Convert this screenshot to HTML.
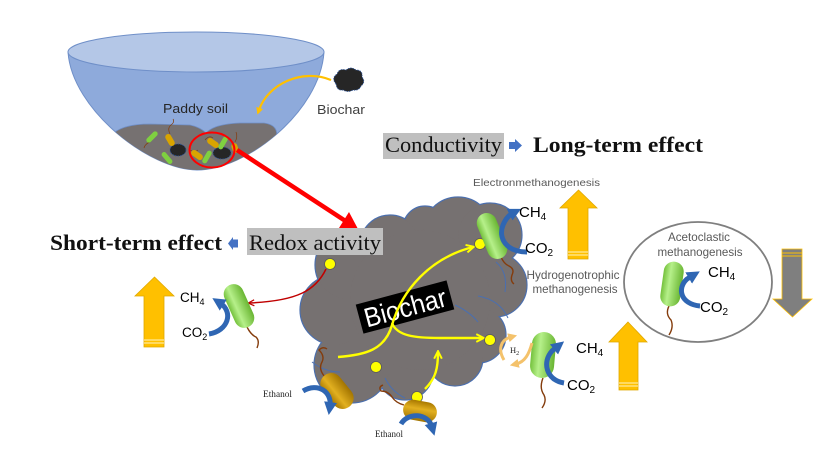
<!DOCTYPE html>
<html><head><meta charset="utf-8"><style>
html,body{margin:0;padding:0;background:#fff;}
svg{display:block;}
</style></head><body>
<svg width="819" height="461" viewBox="0 0 819 461" xmlns="http://www.w3.org/2000/svg">
<defs>
<linearGradient id="gg" x1="0" y1="0" x2="1" y2="0">
<stop offset="0" stop-color="#74c13c"/><stop offset="0.35" stop-color="#b6f08a"/><stop offset="1" stop-color="#69b532"/>
</linearGradient>
<linearGradient id="go" x1="0" y1="0" x2="1" y2="0">
<stop offset="0" stop-color="#a87800"/><stop offset="0.4" stop-color="#e2b020"/><stop offset="1" stop-color="#a27400"/>
</linearGradient>
<marker id="bh" viewBox="0 0 10 10" refX="3" refY="5" markerWidth="2.6" markerHeight="2.8" orient="auto"><path d="M0,0 L10,5 L0,10z" fill="#2f66b3"/></marker>
<marker id="yh" viewBox="0 0 10 10" refX="8" refY="5" markerWidth="4" markerHeight="4" orient="auto"><path d="M1,1 L9,5 L1,9" fill="none" stroke="#ffff00" stroke-width="2"/></marker>
<marker id="oh" viewBox="0 0 10 10" refX="3" refY="5" markerWidth="3" markerHeight="3" orient="auto"><path d="M0,0 L10,5 L0,10z" fill="#f4c26b"/></marker>
<marker id="rh" viewBox="0 0 10 10" refX="8" refY="5" markerWidth="5" markerHeight="5" orient="auto"><path d="M1,1 L9,5 L1,9" fill="none" stroke="#c00000" stroke-width="1.6"/></marker>
<marker id="ah" viewBox="0 0 10 10" refX="3" refY="5" markerWidth="3.2" markerHeight="3.2" orient="auto"><path d="M0,0 L10,5 L0,10z" fill="#ffc000"/></marker>
<clipPath id="bowlc"><path d="M68,52 C72,110 150,170 197,170 C246,170 320,112 324,52 Z"/></clipPath>
</defs>
<rect width="819" height="461" fill="#fff"/>

<!-- Bowl -->
<path d="M68,52 C72,110 150,170 197,170 C246,170 320,112 324,52 Z" fill="#8eaadb" stroke="#6f8fc8" stroke-width="1"/>
<g clip-path="url(#bowlc)">
<path d="M108,140 Q116,124 150,124 L190,125 Q200,127 206,133 Q214,124 240,123 L264,123 Q280,125 276,140 L276,185 L108,185 Z" fill="#767171" stroke="#6f8fc8" stroke-width="0.8"/>
</g>
<ellipse cx="196" cy="52" rx="128" ry="20" fill="#b4c7e7" stroke="#6f8fc8" stroke-width="1"/>
<!-- soil contents -->
<g stroke="#843c0c" stroke-width="0.7" fill="none">
<path d="M170,134 q-3,-6 1,-9 q4,-3 2,-6"/><path d="M150,142 q-5,2 -6,6"/><path d="M205,140 q4,-5 8,-2"/><path d="M235,142 q3,-5 1,-10"/><path d="M190,150 q5,3 8,0"/>
</g>
<g fill="#262626" stroke="#2f5597" stroke-width="0.8" stroke-dasharray="1.5 1">
<ellipse cx="178" cy="150" rx="8" ry="6"/><ellipse cx="222" cy="153" rx="9" ry="6"/>
</g>
<g fill="#7fd040">
<rect x="-2.5" y="-7" width="5" height="14" rx="2.5" transform="translate(152,137) rotate(45)"/>
<rect x="-2.5" y="-7" width="5" height="14" rx="2.5" transform="translate(167,158) rotate(-40)"/>
<rect x="-2.5" y="-7" width="5" height="14" rx="2.5" transform="translate(207,157) rotate(30)"/>
<rect x="-2.5" y="-7" width="5" height="14" rx="2.5" transform="translate(223,143) rotate(30)"/>
</g>
<g fill="#d9a400">
<rect x="-3" y="-6.5" width="6" height="13" rx="3" transform="translate(170,140) rotate(-30)"/>
<rect x="-3" y="-6.5" width="6" height="13" rx="3" transform="translate(197,155) rotate(-55)"/>
<rect x="-3" y="-6.5" width="6" height="13" rx="3" transform="translate(213,143) rotate(-55)"/>
<rect x="-3" y="-5" width="6" height="10" rx="3" transform="translate(235,148) rotate(-20)"/>
</g>
<ellipse cx="212" cy="150" rx="22.5" ry="17.5" fill="none" stroke="#ff0000" stroke-width="2"/>
<text x="163" y="113" font-family="Liberation Sans, sans-serif" font-size="13" fill="#262626" textLength="65" lengthAdjust="spacingAndGlyphs">Paddy soil</text>

<!-- small biochar -->
<g fill="#262626" stroke="#2f5597" stroke-width="0.8" stroke-dasharray="1.5 1">
<path d="M336,84 q-5,-6 1,-10 q2,-6 9,-4 q5,-4 10,0 q7,0 6,7 q4,5 -1,9 q-2,5 -8,4 q-5,3 -10,0 q-6,1 -7,-6z"/>
</g>
<text x="317" y="114" font-family="Liberation Sans, sans-serif" font-size="13" fill="#404040" textLength="48" lengthAdjust="spacingAndGlyphs">Biochar</text>
<path d="M331,80 C302,68 268,84 259,110" fill="none" stroke="#ffc000" stroke-width="2.2" marker-end="url(#ah)"/>

<!-- Red big arrow -->
<line x1="237" y1="150" x2="347" y2="222" stroke="#ff0000" stroke-width="4.5"/>
<polygon points="358,229 339,228 349,212" fill="#ff0000"/>

<!-- Conductivity / Long-term -->
<rect x="383" y="133" width="121" height="26" fill="#bfbfbf"/>
<text x="385" y="152" font-family="Liberation Serif, serif" font-size="22" fill="#111" textLength="117" lengthAdjust="spacingAndGlyphs">Conductivity</text>
<polygon points="509,142 515,142 515,139 522,145.5 515,152 515,149 509,149" fill="#4472c4"/>
<text x="533" y="152" font-family="Liberation Serif, serif" font-size="22" font-weight="bold" fill="#111" textLength="170" lengthAdjust="spacingAndGlyphs">Long-term effect</text>
<text x="473" y="186" font-family="Liberation Sans, sans-serif" font-size="10.5" fill="#595959" textLength="127" lengthAdjust="spacingAndGlyphs">Electronmethanogenesis</text>

<!-- Cloud -->
<g fill="#767171" stroke="#4a6fb0" stroke-width="1.2">
<circle cx="425" cy="228" r="22"/><circle cx="458" cy="232" r="35"/><circle cx="490" cy="235" r="32"/>
<circle cx="495" cy="285" r="32"/><circle cx="478" cy="335" r="28"/><circle cx="455" cy="358" r="28"/>
<circle cx="405" cy="372" r="28"/><circle cx="352" cy="365" r="38"/><circle cx="335" cy="310" r="35"/>
<circle cx="350" cy="265" r="35"/><circle cx="390" cy="245" r="30"/>
</g>
<g fill="#767171">
<circle cx="425" cy="228" r="21.4"/><circle cx="458" cy="232" r="34.4"/><circle cx="490" cy="235" r="31.4"/>
<circle cx="495" cy="285" r="31.4"/><circle cx="478" cy="335" r="27.4"/><circle cx="455" cy="358" r="27.4"/>
<circle cx="405" cy="372" r="27.4"/><circle cx="352" cy="365" r="37.4"/><circle cx="335" cy="310" r="34.4"/>
<circle cx="350" cy="265" r="34.4"/><circle cx="390" cy="245" r="29.4"/>
<circle cx="420" cy="300" r="70"/>
</g>
<g fill="none" stroke="#4a6fb0" stroke-width="1">
<path d="M478,296 Q500,300 508,318"/><path d="M312,362 Q325,372 340,372"/><path d="M385,378 Q392,392 405,398"/><path d="M455,305 Q470,312 478,322"/><path d="M496,262 Q508,272 505,292"/>
</g>

<!-- Redox / Short-term (drawn over cloud) -->
<rect x="247" y="228" width="136" height="27" fill="#bfbfbf"/>
<text x="249" y="250" font-family="Liberation Serif, serif" font-size="22" fill="#111" textLength="132" lengthAdjust="spacingAndGlyphs">Redox activity</text>
<polygon points="238,239.5 233,239.5 233,237 228,243.5 233,250 233,247.5 238,247.5" fill="#4472c4"/>
<text x="50" y="250" font-family="Liberation Serif, serif" font-size="22" font-weight="bold" fill="#111" textLength="172" lengthAdjust="spacingAndGlyphs">Short-term effect</text>

<!-- Biochar label -->
<g transform="translate(405,307) rotate(-15)">
<rect x="-47" y="-15" width="94" height="30" fill="#000"/>
<text x="0" y="10" text-anchor="middle" font-family="Liberation Sans, sans-serif" font-size="27" fill="#fff" textLength="84" lengthAdjust="spacingAndGlyphs">Biochar</text>
</g>

<!-- yellow arrows in cloud -->
<g fill="none" stroke="#ffff00" stroke-width="2.4">
<path d="M338,357 C365,355 385,350 392,325 C402,290 430,258 473,247" marker-end="url(#yh)"/>
<path d="M392,323 C397,336 415,338 440,338 L483,338" marker-end="url(#yh)"/>
<path d="M425,389 C436,378 438,368 438,352" marker-end="url(#yh)"/>
</g>
<!-- red thin arrow -->
<path d="M326,269 C316,290 298,301 249,303" fill="none" stroke="#c00000" stroke-width="1.5" marker-end="url(#rh)"/>
<!-- dots -->
<g fill="#ffff00" stroke="#595959" stroke-width="0.8">
<circle cx="330" cy="264" r="5.5"/><circle cx="480" cy="244" r="5.5"/><circle cx="490" cy="340" r="5.5"/><circle cx="376" cy="367" r="5.5"/><circle cx="417" cy="397" r="5.5"/>
</g>

<!-- tails -->
<g fill="none" stroke="#843c0c" stroke-width="1.4">
<path d="M501,257 q3,7 8,9 q6,3 3,9 q-2,6 2,9"/>
<path d="M247,327 q4,8 9,10 q4,4 1,11"/>
<path d="M669,306 q-4,8 2,14 q3,7 -2,15"/>
<path d="M543,378 q-4,10 1,17 q3,6 -2,13"/>
<path d="M325,377 q-7,-8 -3,-15 q3,-6 -3,-12 q4,-4 8,-1"/>
<path d="M404,405 q-8,-2 -12,-8 q-4,-6 -11,-6 q-3,-4 2,-6"/>
</g>

<!-- green bacteria -->
<rect x="-10" y="-24" width="20" height="48" rx="10" fill="url(#gg)" transform="translate(492,236) rotate(-22)"/>
<rect x="-10" y="-23" width="20" height="46" rx="10" fill="url(#gg)" transform="translate(239,306) rotate(-24)"/>
<rect x="-10" y="-22.5" width="20" height="45" rx="10" fill="url(#gg)" transform="translate(672,284) rotate(8)"/>
<rect x="-12" y="-23" width="24" height="46" rx="12" fill="url(#gg)" transform="translate(543,355) rotate(5)"/>
<!-- gold bacteria -->
<rect x="-11" y="-20" width="22" height="40" rx="11" fill="url(#go)" transform="translate(337,391) rotate(-39)"/>
<rect x="-10" y="-17" width="20" height="34" rx="10" fill="url(#go)" transform="translate(420,411) rotate(100)"/>

<!-- blue arrows -->
<g fill="none" stroke="#2f66b3" stroke-width="5">
<path d="M527,252 C506,252 498,238 503,225 C506,218 509,215 513,213" marker-end="url(#bh)"/>
<path d="M209,334 C228,331 234,312 220,303" marker-end="url(#bh)"/>
<path d="M700,306 C680,304 677,288 687,279 L692,276" marker-end="url(#bh)"/>
<path d="M564,383 C546,380 542,362 552,351 L557,347" marker-end="url(#bh)"/>
<path d="M303,391 C318,382 332,392 330,406" marker-end="url(#bh)"/>
<path d="M401,424 C408,412 428,413 432,427" marker-end="url(#bh)"/>
</g>
<!-- H2 arrows -->
<g fill="none" stroke="#f4c26b" stroke-width="3">
<path d="M504,360 C498,350 500,340 511,337" marker-end="url(#oh)"/>
<path d="M532,343 C529,354 525,362 516,364" marker-end="url(#oh)"/>
</g>
<text x="510" y="353" font-family="Liberation Serif, serif" font-size="8.5" fill="#222">H<tspan font-size="6" dy="2">2</tspan></text>

<!-- chemical labels -->
<g font-family="Liberation Sans, sans-serif" fill="#000">
<text x="519" y="217" font-size="15">CH<tspan font-size="10" dy="3">4</tspan></text>
<text x="525" y="253" font-size="15">CO<tspan font-size="10" dy="3">2</tspan></text>
<text x="180" y="302" font-size="13.5">CH<tspan font-size="9" dy="3">4</tspan></text>
<text x="182" y="337" font-size="13.5">CO<tspan font-size="9" dy="3">2</tspan></text>
<text x="708" y="277" font-size="15">CH<tspan font-size="10" dy="3">4</tspan></text>
<text x="700" y="312" font-size="15">CO<tspan font-size="10" dy="3">2</tspan></text>
<text x="576" y="353" font-size="15">CH<tspan font-size="10" dy="3">4</tspan></text>
<text x="567" y="390" font-size="15">CO<tspan font-size="10" dy="3">2</tspan></text>
</g>
<text x="263" y="397" font-family="Liberation Serif, serif" font-size="9" fill="#222" textLength="29" lengthAdjust="spacingAndGlyphs">Ethanol</text>
<text x="375" y="437" font-family="Liberation Serif, serif" font-size="9" fill="#222" textLength="28" lengthAdjust="spacingAndGlyphs">Ethanol</text>

<!-- Hydrogenotrophic -->
<g font-family="Liberation Sans, sans-serif" font-size="12" fill="#595959" text-anchor="middle">
<text x="573" y="279" textLength="93" lengthAdjust="spacingAndGlyphs">Hydrogenotrophic</text>
<text x="575" y="293" textLength="85" lengthAdjust="spacingAndGlyphs">methanogenesis</text>
</g>

<!-- Ellipse -->
<ellipse cx="698" cy="282" rx="74" ry="60" fill="none" stroke="#7f7f7f" stroke-width="1.8"/>
<g font-family="Liberation Sans, sans-serif" font-size="12" fill="#595959" text-anchor="middle">
<text x="699" y="241" textLength="62" lengthAdjust="spacingAndGlyphs">Acetoclastic</text>
<text x="700" y="256" textLength="85" lengthAdjust="spacingAndGlyphs">methanogenesis</text>
</g>

<!-- Big yellow arrows -->
<g fill="#ffc000" stroke="#e0a800" stroke-width="0.8">
<polygon points="578.5,190 597,208 588,208 588,259 568,259 568,208 560,208"/>
<polygon points="154.5,277 174,296 164,296 164,347 144,347 144,296 135,296"/>
<polygon points="628,322 647,342 638,342 638,390 619,390 619,342 609,342"/>
</g>
<g stroke="#fff3c0" stroke-width="0.9">
<line x1="568" y1="252" x2="588" y2="252"/><line x1="568" y1="255" x2="588" y2="255"/>
<line x1="144" y1="340" x2="164" y2="340"/><line x1="144" y1="343" x2="164" y2="343"/>
<line x1="619" y1="383" x2="638" y2="383"/><line x1="619" y1="386" x2="638" y2="386"/>
</g>
<!-- Gray down arrow -->
<polygon points="782,249 802,249 802,299 812,299 792.5,317 773,299 782,299" fill="#7f7f7f" stroke="#ffc000" stroke-width="0.8"/>
<g stroke="#ffc000" stroke-width="1"><line x1="782" y1="253" x2="802" y2="253"/><line x1="782" y1="256" x2="802" y2="256"/></g>
</svg>
</body></html>
